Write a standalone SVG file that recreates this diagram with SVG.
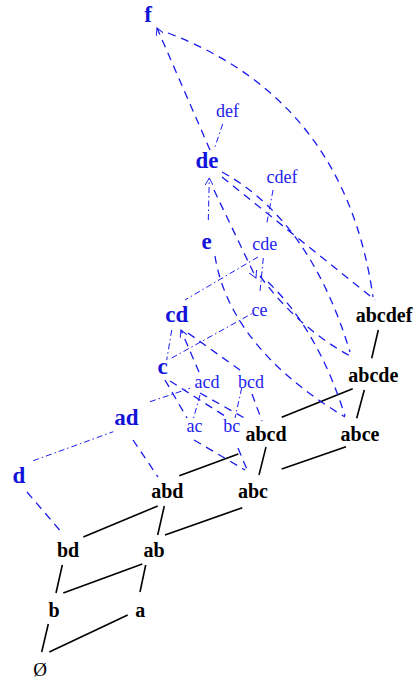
<svg xmlns="http://www.w3.org/2000/svg" width="414" height="681" viewBox="0 0 414 681">
<defs>
<style>
.k{font-family:"Liberation Serif",serif;font-weight:bold;font-size:20px;fill:#000;text-anchor:middle}
.e0{font-family:"Liberation Serif",serif;font-size:19px;fill:#000;text-anchor:middle}
.B{font-family:"Liberation Serif",serif;font-weight:bold;font-size:23px;fill:#1212d8;text-anchor:middle}
.s{font-family:"Liberation Serif",serif;font-size:18px;fill:#2222ee;text-anchor:middle}
.ke{stroke:#000;stroke-width:1.6;fill:none}
.bd{stroke:#1a1aee;stroke-width:1.3;fill:none;stroke-dasharray:8 6}
.bdd{stroke:#1a1aee;stroke-width:1;fill:none;stroke-dasharray:6 3 1.5 3}
</style>
<marker id="ar" viewBox="0 0 10 10" refX="9" refY="5" markerWidth="8" markerHeight="8" orient="auto-start-reverse" markerUnits="userSpaceOnUse">
<path d="M0,0 L9,5 L0,10" fill="none" stroke="#1a1aee" stroke-width="1.2"/>
</marker>
</defs>
<g id="connectors">
<g id="black-edges">
<line class="ke" x1="41.7" y1="652" x2="48.3" y2="624"/>
<line class="ke" x1="49.3" y1="652" x2="127.7" y2="615"/>
<line class="ke" x1="63.3" y1="593" x2="142.3" y2="564"/>
<line class="ke" x1="140" y1="592" x2="145.7" y2="565"/>
<line class="ke" x1="56" y1="593" x2="62.3" y2="565"/>
<line class="ke" x1="83.3" y1="537" x2="157.7" y2="506"/>
<line class="ke" x1="157.7" y1="535" x2="164.3" y2="506"/>
<line class="ke" x1="165" y1="535" x2="242.3" y2="507.7"/>
<line class="ke" x1="179.3" y1="475.7" x2="238.3" y2="454"/>
<line class="ke" x1="259" y1="475" x2="266" y2="447"/>
<line class="ke" x1="281.7" y1="469" x2="346" y2="446.7"/>
<line class="ke" x1="281.7" y1="417.3" x2="352.7" y2="388.7"/>
<line class="ke" x1="356.7" y1="418.3" x2="364.3" y2="390"/>
<line class="ke" x1="371.7" y1="358.3" x2="378.3" y2="330"/>
</g>
<g id="blue-dashed">
<path class="bd" d="M210,150 L157,28" marker-end="url(#ar)"/>
<path class="bd" d="M168,33 Q345,100 373,297"/>
<path class="bd" d="M222,177 L375,300"/>
<path class="bd" d="M222,172 Q310,220 350,352"/>
<path class="bd" d="M214,190 L256,278" marker-end="url(#ar)"/>
<path class="bd" d="M215,256 C222,300 250,360 345,417"/>
<path class="bd" d="M27,492 L63,534"/>
<path class="bd" d="M133,440 L158,477"/>
<path class="bd" d="M165,380 L187,418"/>
<path class="bd" d="M170,381 L228,418"/>
<path class="bd" d="M194,440 L245,470"/>
<path class="bd" d="M238,448 L248,472"/>
<path class="bd" d="M200,393 L248,420"/>
<path class="bd" d="M252,394 L262,421"/>
<path class="bd" d="M199,372 L181,330" marker-end="url(#ar)"/>
<path class="bd" d="M188,333 L240,370"/>
<path class="bd" d="M260,276 Q300,330 354,358"/>
<path class="bd" d="M268,282 Q318,330 345,416"/>
</g>
<g id="blue-dashdot">
<line class="bdd" x1="222.7" y1="124" x2="215" y2="146.7"/>
<path class="bdd" d="M208.3,220 L209.3,178" marker-end="url(#ar)"/>
<line class="bdd" x1="273" y1="190" x2="266.7" y2="224"/>
<line class="bdd" x1="258" y1="257" x2="185" y2="300"/>
<line class="bdd" x1="263.3" y1="258" x2="260" y2="291.7"/>
<line class="bdd" x1="171.7" y1="330" x2="166.7" y2="360"/>
<line class="bdd" x1="171.7" y1="358" x2="253" y2="313"/>
<line class="bdd" x1="200" y1="395" x2="193" y2="420"/>
<line class="bdd" x1="241.7" y1="388" x2="235" y2="418"/>
<line class="bdd" x1="33.3" y1="460.7" x2="113.3" y2="431.7"/>
<line class="bdd" x1="150" y1="401.7" x2="190" y2="388.3"/>
</g>
</g>
<g id="n-empty"><text class="e0" x="40" y="676">Ø</text></g>
<g id="n-a"><text class="k" x="140.3" y="617">a</text></g>
<g id="n-b"><text class="k" x="54" y="617">b</text></g>
<g id="n-ab"><text class="k" x="154" y="557">ab</text></g>
<g id="n-bd"><text class="k" x="68" y="557">bd</text></g>
<g id="n-abd"><text class="k" x="167.3" y="498">abd</text></g>
<g id="n-abc"><text class="k" x="253" y="498">abc</text></g>
<g id="n-abcd"><text class="k" x="266" y="440.5">abcd</text></g>
<g id="n-abce"><text class="k" x="360" y="440.5">abce</text></g>
<g id="n-abcde"><text class="k" x="373.3" y="381.5">abcde</text></g>
<g id="n-abcdef"><text class="k" x="384" y="321.5">abcdef</text></g>
<g id="n-f"><text class="B" x="148" y="22">f</text></g>
<g id="n-de"><text class="B" x="207" y="168">de</text></g>
<g id="n-e"><text class="B" x="206.7" y="249">e</text></g>
<g id="n-cd"><text class="B" x="176.7" y="322">cd</text></g>
<g id="n-c"><text class="B" x="162.5" y="374">c</text></g>
<g id="n-ad"><text class="B" x="126.3" y="425">ad</text></g>
<g id="n-d"><text class="B" x="19" y="483">d</text></g>
<g id="n-def"><text class="s" x="227.5" y="117">def</text></g>
<g id="n-cdef"><text class="s" x="282" y="183">cdef</text></g>
<g id="n-cde"><text class="s" x="264.7" y="250">cde</text></g>
<g id="n-ce"><text class="s" x="259.5" y="316">ce</text></g>
<g id="n-acd"><text class="s" x="207" y="388">acd</text></g>
<g id="n-bcd"><text class="s" x="251" y="388">bcd</text></g>
<g id="n-ac"><text class="s" x="194.5" y="432">ac</text></g>
<g id="n-bc"><text class="s" x="231.7" y="432">bc</text></g>
</svg>
